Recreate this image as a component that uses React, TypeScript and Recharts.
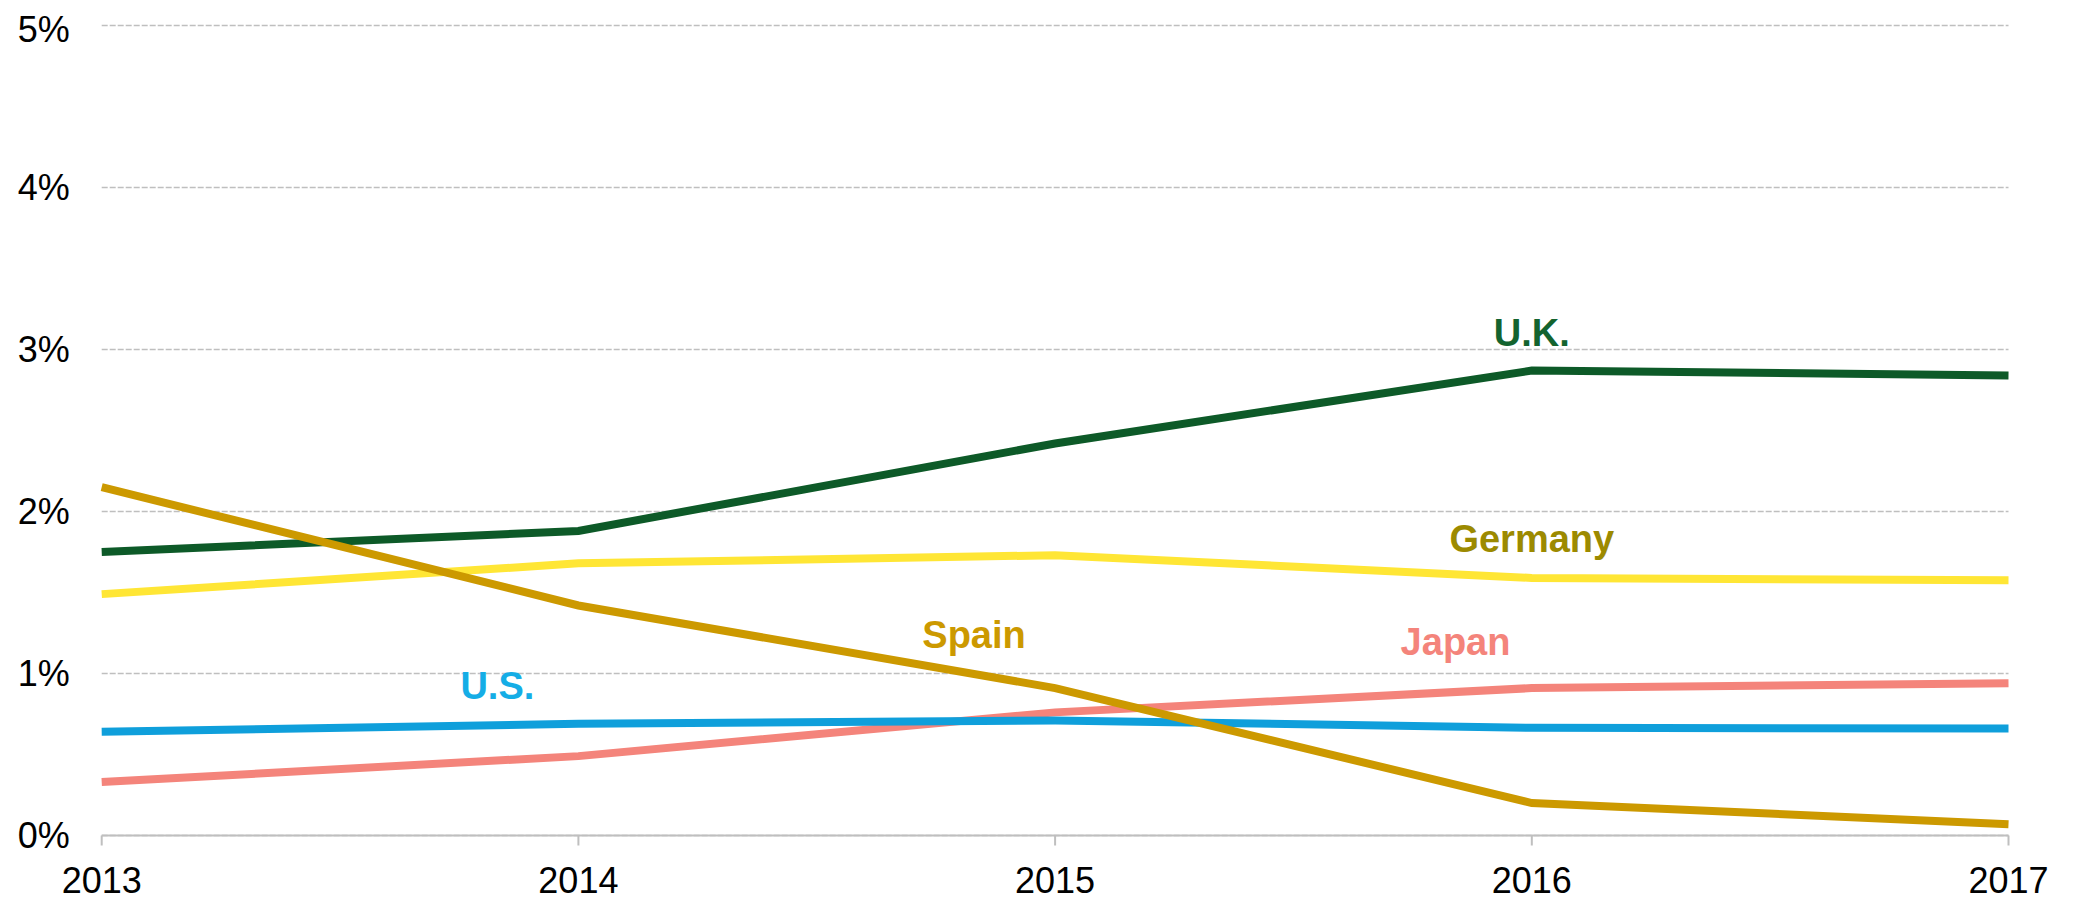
import React from "react";
import {
  LineChart,
  Line,
  XAxis,
  YAxis,
  CartesianGrid,
  ReferenceDot,
} from "recharts";

// values, percent
const years = [2013, 2014, 2015, 2016, 2017];
const uk = [1.75, 1.88, 2.42, 2.87, 2.84];
const germany = [1.49, 1.68, 1.73, 1.59, 1.575];
const spain = [2.15, 1.42, 0.91, 0.2, 0.07];
const japan = [0.33, 0.49, 0.76, 0.91, 0.94];
const us = [0.64, 0.69, 0.71, 0.665, 0.66];
const yTicks = [0, 1, 2, 3, 4, 5];

const data = years.map((year, i) => ({
  year,
  uk: uk[i],
  germany: germany[i],
  spain: spain[i],
  japan: japan[i],
  us: us[i],
}));

const series = [
  { key: "japan", color: "#f4847b" },
  { key: "us", color: "#0f9fdb" },
  { key: "germany", color: "#ffe635" },
  { key: "uk", color: "#0d5a28" },
  { key: "spain", color: "#cc9900" },
];

// series names placed next to their lines (x in years, y in percent)
const annotations = [
  { text: "U.K.", x: 2016, y: 3.02, color: "#13632f" },
  { text: "Germany", x: 2016, y: 1.75, color: "#9c8a00" },
  { text: "Spain", x: 2014.83, y: 1.157, color: "#cc9900" },
  { text: "Japan", x: 2015.84, y: 1.114, color: "#f4847b" },
  { text: "U.S.", x: 2013.83, y: 0.843, color: "#15ade6" },
];

const font = "'Liberation Sans', Arial, sans-serif";

const NameLabel = ({ viewBox, value, fill }: any) => (
  <text
    x={viewBox.x}
    y={viewBox.y}
    textAnchor="middle"
    fill={fill}
    fontFamily={font}
    fontWeight="bold"
    fontSize={38}
  >
    {value}
  </text>
);

export default function App() {
  return (
    <div style={{ width: 2057, height: 885 }}>
      <LineChart
        width={2057}
        height={893}
        data={data}
        margin={{ top: 17.5, right: 56.5, left: 0, bottom: 8 }}
      >
        <CartesianGrid
          vertical={false}
          stroke="#bfbfbf"
          strokeWidth={1.5}
          strokeDasharray="6 2"
        />
        <XAxis
          dataKey="year"
          type="number"
          domain={[2013, 2017]}
          ticks={years}
          height={57.5}
          axisLine={{ stroke: "#bfbfbf", strokeWidth: 2 }}
          tickLine={{ stroke: "#bfbfbf", strokeWidth: 2 }}
          tickSize={10}
          tickMargin={22}
          tick={{ fill: "#000", fontSize: 36, fontFamily: font }}
        />
        <YAxis
          domain={[0, 5]}
          ticks={yTicks}
          width={93.7}
          axisLine={false}
          tickLine={false}
          tickSize={0}
          tickMargin={32}
          tickFormatter={(v) => `${v}%`}
          tick={{ fill: "#000", fontSize: 36, fontFamily: font }}
        />
        {series.map((s) => (
          <Line
            key={s.key}
            dataKey={s.key}
            stroke={s.color}
            strokeWidth={8}
            dot={false}
            type="linear"
            isAnimationActive={false}
          />
        ))}
        {annotations.map((a) => (
          <ReferenceDot
            key={a.text}
            x={a.x}
            y={a.y}
            r={0}
            fill="none"
            stroke="none"
            label={<NameLabel value={a.text} fill={a.color} />}
          />
        ))}
      </LineChart>
    </div>
  );
}
